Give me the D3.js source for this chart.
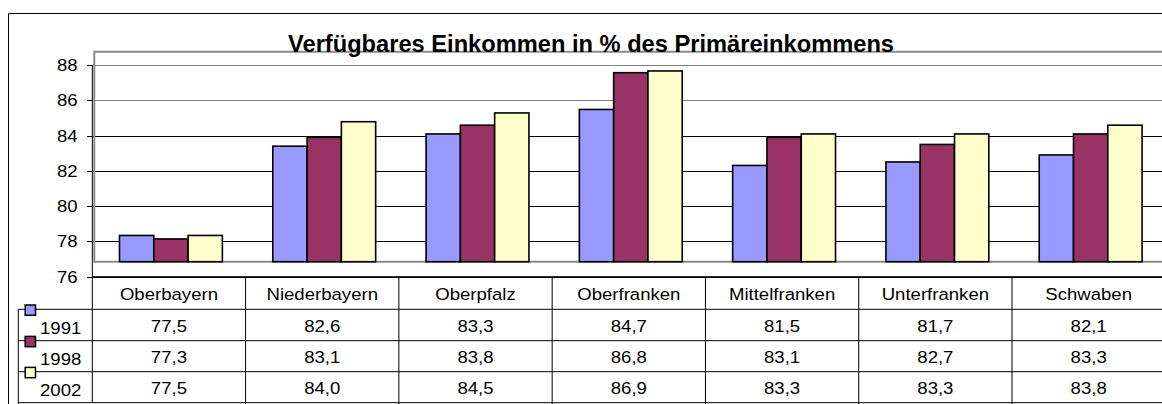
<!DOCTYPE html>
<html><head><meta charset="utf-8">
<script src="https://cdn.jsdelivr.net/npm/d3@7"></script>
<style>
html,body{margin:0;padding:0;background:#fff;}
svg{display:block;}
text{font-family:"Liberation Sans",Arial,sans-serif;fill:#000;}
</style></head>
<body>
<svg id="chart" width="1162" height="404"></svg>
<script>
const titleText = "Verfügbares Einkommen in % des Primäreinkommens";
const categories = ["Oberbayern","Niederbayern","Oberpfalz","Oberfranken","Mittelfranken","Unterfranken","Schwaben"];
const years = ["1991","1998","2002"];
const v1991 = [77.5, 82.6, 83.3, 84.7, 81.5, 81.7, 82.1];
const v1998 = [77.3, 83.1, 83.8, 86.8, 83.1, 82.7, 83.3];
const v2002 = [77.5, 84.0, 84.5, 86.9, 83.3, 83.3, 83.8];
const seriesValues = [v1991, v1998, v2002];
const colors = ["#9999FF","#993366","#FFFFCC"];
const yTicks = [76,78,80,82,84,86,88];

const svg = d3.select("#chart");
const W = 1162;
const SX = 1.14, FS = 16.3;
const fmt = d3.formatLocale({decimal:",", thousands:".", grouping:[3], currency:["","€"]}).format(".1f");

// geometry
const axisX = 92.3, tableRight = 1165.3;
const yAxis = d3.scaleLinear().domain([76,88]).range([276.7,65]);
const depthDx = 2, depthDy = -15;
const yBar = d3.scaleLinear().domain([76,88]).range([261.7,51.7]);
const x0 = d3.scaleBand().domain(categories).range([axisX, tableRight]).padding(0);
const x1 = d3.scaleBand().domain(years).range([0, x0.bandwidth()]).paddingInner(0).paddingOuter(0.735);

function txt(g, x, y, s, anchor, opts={}) {
  return g.append("text")
    .attr("transform", `translate(${x},${y}) scale(${opts.sx||SX},1)`)
    .attr("text-anchor", anchor)
    .style("font-size", (opts.fs||FS)+"px")
    .style("font-weight", opts.bold ? "bold" : "normal")
    .text(s);
}

// outer border
svg.append("line").attr("x1",8.5).attr("x2",W).attr("y1",13.5).attr("y2",13.5).attr("stroke","#000");
svg.append("line").attr("x1",8.5).attr("x2",8.5).attr("y1",13.5).attr("y2",404).attr("stroke","#000");

// gridlines (axis scale)
const grid = svg.append("g");
yTicks.forEach(t => {
  const y = Math.round(yAxis(t)) + 0.5;
  grid.append("line").attr("x1",87).attr("x2",W).attr("y1",y).attr("y2",y)
    .attr("stroke", t >= 86 ? "#808080" : "#000").attr("stroke-width",1);
});

// back wall edges (gray)
const wallX = axisX + depthDx;
const wall = svg.append("g").attr("stroke","#8a8a8a").attr("stroke-width",2).attr("fill","none");
wall.append("path").attr("d", `M${W},${yBar(88)}H${wallX}V${yBar(76)}H${W}`);

// y axis line + ticks
svg.append("line").attr("x1",axisX).attr("x2",axisX).attr("y1",yAxis(88)).attr("y2",403).attr("stroke","#000");
yTicks.forEach(t => {
  const y = Math.round(yAxis(t)) + 0.5;
  svg.append("line").attr("x1",87).attr("x2",axisX).attr("y1",y).attr("y2",y).attr("stroke","#000");
  txt(svg, 77.7, yAxis(t) + 6, String(t), "end");
});

// bars
const barG = svg.append("g");
categories.forEach((c, i) => {
  years.forEach((yr, k) => {
    const v = seriesValues[k][i];
    const x = x0(c) + x1(yr) + depthDx;
    barG.append("rect")
      .attr("x", x).attr("y", yBar(v))
      .attr("width", x1.bandwidth()).attr("height", yBar(76) - yBar(v))
      .attr("fill", colors[k]).attr("stroke","#000").attr("stroke-width",1.6);
  });
});

// title
svg.append("text")
  .attr("x", 591).attr("y", 51.5)
  .attr("text-anchor","middle")
  .attr("textLength", 606).attr("lengthAdjust","spacingAndGlyphs")
  .style("font-size","23px").style("font-weight","bold")
  .text(titleText);

// data table
const tbl = svg.append("g");
const rowY = [276.7, 309.3, 340.7, 371.7, 402.7];
const legendLeft = 18.3;
tbl.append("line").attr("x1",axisX).attr("x2",W).attr("y1",rowY[0]).attr("y2",rowY[0]).attr("stroke","#000");
for (let r = 1; r < rowY.length; r++) {
  tbl.append("line").attr("x1",legendLeft).attr("x2",W).attr("y1",rowY[r]).attr("y2",rowY[r]).attr("stroke","#000");
}
tbl.append("line").attr("x1",legendLeft).attr("x2",legendLeft).attr("y1",rowY[1]).attr("y2",404).attr("stroke","#000");
categories.forEach(c => {
  const xr = x0(c) + x0.bandwidth();
  tbl.append("line").attr("x1",xr).attr("x2",xr).attr("y1",rowY[0]).attr("y2",404).attr("stroke","#000");
  txt(tbl, x0(c) + x0.bandwidth()/2, (rowY[0]+rowY[1])/2 + 6.5, c, "middle");
});
years.forEach((yr, k) => {
  const top = rowY[k+1], bot = rowY[k+2];
  const mid = (top + bot) / 2;
  categories.forEach((c, i) => {
    txt(tbl, x0(c) + x0.bandwidth()/2, mid + 6.5, fmt(seriesValues[k][i]), "middle");
  });
  // legend key
  tbl.append("rect").attr("x",25.2).attr("y", top - 4.3).attr("width",10.3).attr("height",10.3)
    .attr("fill", colors[k]).attr("stroke","#000").attr("stroke-width",1.5);
  txt(tbl, 40, mid + 9, yr, "start");
});
</script>
</body></html>
